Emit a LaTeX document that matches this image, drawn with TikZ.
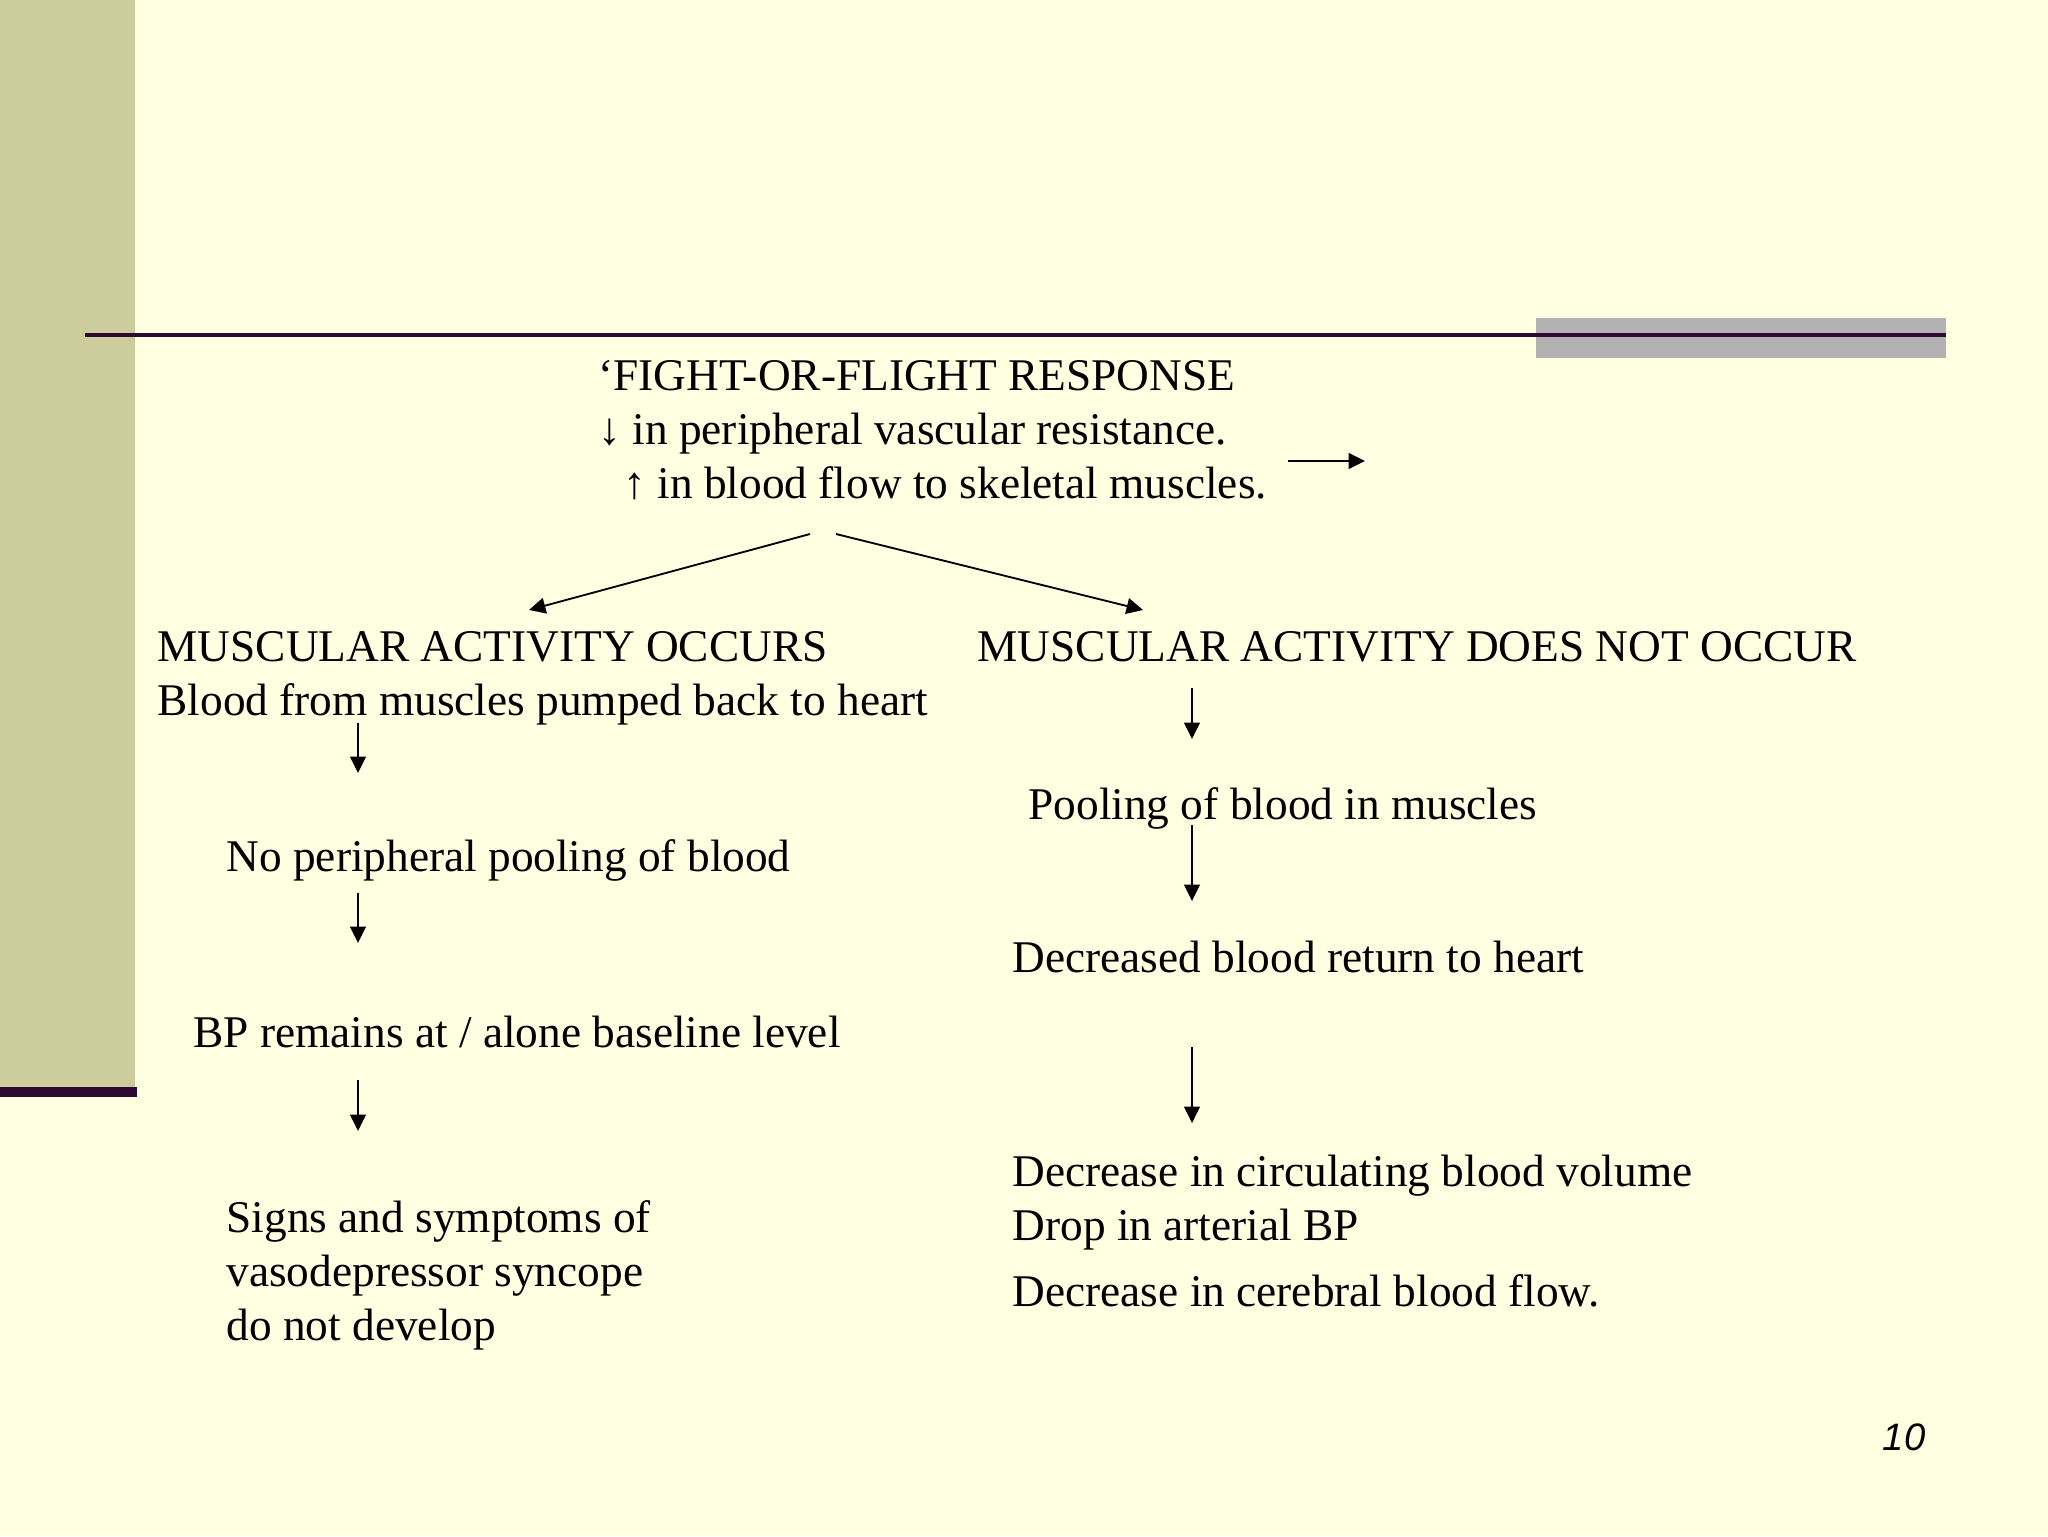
\documentclass[tikz,border=0pt]{standalone}
\usepackage{fontspec}
\setmainfont{Liberation Serif}
\newfontfamily\pagenumfont{Liberation Sans}
\usetikzlibrary{arrows.meta}
\definecolor{slidebg}{HTML}{FFFFE1}
\definecolor{sidebar}{HTML}{CCCC9C}
\definecolor{rulecol}{HTML}{2E0A33}
\definecolor{tabgray}{HTML}{B2B2B2}
\newcommand\slidefont{\fontsize{16}{19.2}\selectfont}
\newcommand\slidespace{\spaceskip=0pt\xspaceskip=0pt\relax}

\begin{document}
\begin{tikzpicture}[x=0.0124cm,y=-0.0124cm,
    txt/.style={anchor=base west,inner sep=0pt,text width=12cm,align=left,
      font=\slidefont,execute at begin node=\slidespace},
    arr/.style={line width=0.65pt,-{Triangle[length=5.8pt,width=5.6pt]}}]
    % slide background
    \fill[slidebg] (0,0) rectangle (2048,1536);
    \useasboundingbox (0,0) rectangle (2048,1536);
    \fill[sidebar] (0,0) rectangle (135,1087);
    \fill[rulecol] (0,1087) rectangle (137,1097);
    \fill[tabgray] (1536,318) rectangle (1946,358);
    \draw[rulecol,line width=1.4pt] (85,335) -- (1946,335);
    % texts
    \node[txt] (response) at (598,390) {‘FIGHT-OR-FLIGHT RESPONSE\\
      ↓ in peripheral vascular resistance.\\
      \hspace*{0.31cm}↑ in blood flow to skeletal muscles.};
    \node[txt] (occurs) at (157,661) {MUSCULAR ACTIVITY OCCURS\\
      Blood from muscles pumped back to heart};
    \node[txt] (notoccur) at (977,661) {MUSCULAR ACTIVITY DOES NOT OCCUR};
    \node[txt] (nopooling) at (226,871) {No peripheral pooling of blood};
    \node[txt] (baseline) at (193,1047) {BP remains at / alone baseline level};
    \node[txt] (nosyncope) at (226,1232) {Signs and symptoms of\\
      vasodepressor syncope\\
      do not develop};
    \node[txt] (pooling) at (1028,819) {Pooling of blood in muscles};
    \node[txt] (return) at (1012,972) {Decreased blood return to heart};
    \node[txt] (volume) at (1012,1186) {Decrease in circulating blood volume\\
      Drop in arterial BP\\[4pt]
      Decrease in cerebral blood flow.};
    \node[anchor=base east,inner sep=0pt,font=\pagenumfont\itshape\fontsize{13.5}{16}\selectfont] (pagenum) at (1926,1450) {10};
    % arrow ends
    \coordinate (side a) at (1288,461);
    \coordinate (side b) at (1365,461);
    \coordinate (fork l) at (810,534);
    \coordinate (fork r) at (836,534);
    \coordinate (tip l) at (529,610);
    \coordinate (tip r) at (1143,610);
    \coordinate (l1a) at (358,723);
    \coordinate (l1b) at (358,773);
    \coordinate (l2a) at (358,893);
    \coordinate (l2b) at (358,943);
    \coordinate (l3a) at (358,1080);
    \coordinate (l3b) at (358,1131);
    \coordinate (r1a) at (1192,688);
    \coordinate (r1b) at (1192,739);
    \coordinate (r2a) at (1192,825);
    \coordinate (r2b) at (1192,901);
    \coordinate (r3a) at (1192,1047);
    \coordinate (r3b) at (1192,1123);
    % arrows
    \draw[arr] (side a) -- (side b);
    \draw[arr] (fork l) -- (tip l);
    \draw[arr] (fork r) -- (tip r);
    \draw[arr] (l1a) -- (l1b);
    \draw[arr] (l2a) -- (l2b);
    \draw[arr] (l3a) -- (l3b);
    \draw[arr] (r1a) -- (r1b);
    \draw[arr] (r2a) -- (r2b);
    \draw[arr] (r3a) -- (r3b);
\end{tikzpicture}
\end{document}
